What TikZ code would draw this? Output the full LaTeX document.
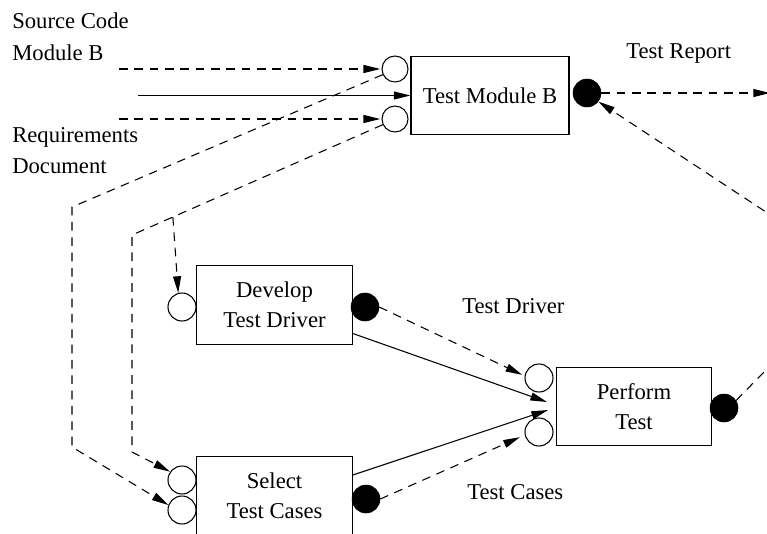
\documentclass[tikz,border=0pt]{standalone}
\usepackage{fontspec}
\setmainfont{Liberation Serif}
\usetikzlibrary{arrows.meta,calc}
\begin{document}
\begin{tikzpicture}[x=0.75pt,y=-0.75pt,
 font=\fontsize{17}{22.5}\selectfont,
 proc/.style={draw,line width=0.8pt,inner sep=0,align=center,minimum width=116.5pt,minimum height=59pt},
 port/.style={circle,draw,line width=0.8pt,minimum size=21pt,inner sep=0,fill=white},
 outp/.style={circle,draw,fill=black,minimum size=21pt,inner sep=0},
 dsh/.style={dash pattern=on 6.5pt off 5pt,line width=0.8pt},
 sol/.style={line width=0.8pt},
 tip/.style={-{Triangle[length=12.5pt,width=6pt]}},
 lbl/.style={anchor=base west,inner sep=0}
]
\clip (0,0) rectangle (767,533);
% boxes
\node[proc,minimum width=118.5pt] (tmb) at (490,95.5) {Test Module B};
\node[proc] (dtd) at (274.5,305) {Develop\\Test Driver};
\node[proc] (stc) at (274.5,496) {Select\\Test Cases};
\node[proc] (pt) at (634,406.5) {Perform\\Test};
% ports
\node[port,minimum size=19.5pt] (tmb1) at (395,69) {};
\node[port,minimum size=19.5pt] (tmb2) at (395,119) {};
\node[outp] (tmbo) at (587,93) {};
\node[port] (dtd1) at (182,307) {};
\node[outp] (dtdo) at (365,307) {};
\node[port] (stc1) at (182,480) {};
\node[port] (stc2) at (182,510) {};
\node[outp] (stco) at (366,499) {};
\node[port] (pt1) at (539,378) {};
\node[port] (pt2) at (539,432) {};
\node[outp] (pto) at (724,408) {};
% labels
\node[lbl] (l1) at (12,28) {Source Code};
\node[lbl] (l2) at (12,60) {Module B};
\node[lbl] (l3) at (12,142) {Requirements};
\node[lbl] (l4) at (12,173) {Document};
\node[lbl] (l5) at (626,58) {Test Report};
\node[lbl] (l6) at (462,313) {Test Driver};
\node[lbl] (l7) at (467,499) {Test Cases};
% free ends / bends
\coordinate (srcA) at (119,69);
\coordinate (solA) at (138,95.5);
\coordinate (reqA) at (119,119);
\coordinate (b4a) at (72,207);
\coordinate (b4b) at (72,447);
\coordinate (b5a) at (132,235);
\coordinate (b5b) at (132,452);
\coordinate (outR) at (770,93);
\coordinate (bR) at (860,274);
% connectors
\draw[dsh,tip,shorten >=1pt] (srcA) -- (tmb1.west);
\draw[sol,tip] (solA) -- (solA -| tmb.west);
\draw[dsh,tip,shorten >=1pt] (reqA) -- (tmb2.west);
\draw[dsh,tip] (tmb1.205) -- (b4a) -- (b4b) -- (stc2.160);
\draw[dsh,tip] (tmb2.205) -- (b5a) -- (b5b) -- (stc1.145);
\coordinate (br) at ($(tmb2.205)!0.837!(b5a)$);
\draw[dsh,tip] (br) -- (dtd1.105);
\draw[dsh,tip,shorten >=2pt] (dtdo.east) -- (pt1.172);
\draw[sol,tip] (dtd.-20) -- (547,402);
\draw[sol,tip] (stc.15) -- (548,410);
\draw[dsh,tip,shorten >=4pt] (stco.east) -- (pt2.192);
\draw[dsh,tip] (pto.32) -- (bR) -- (tmbo.-37);
\draw[dsh,tip] (tmbo.east) -- (outR);
\end{tikzpicture}
\end{document}
